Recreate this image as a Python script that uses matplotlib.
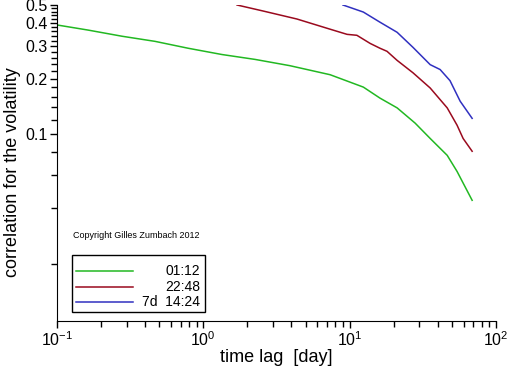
import matplotlib
matplotlib.use("Agg")
import matplotlib.pyplot as plt
from matplotlib.ticker import FixedLocator, NullFormatter, LogLocator, LogFormatterMathtext
from matplotlib.patches import Rectangle

plt.rcParams['font.family'] = ['Liberation Sans', 'DejaVu Sans']
plt.rcParams['mathtext.fontset'] = 'custom'
plt.rcParams['mathtext.rm'] = 'Liberation Sans'

# data
green_x = [0.1, 0.163, 0.278, 0.468, 0.786, 1.34, 2.26, 3.9, 7.35, 12.4, 16.1, 21.1, 28, 35.5, 46.4, 54.2, 68.7]
green_y = [0.39, 0.366, 0.339, 0.318, 0.292, 0.270, 0.254, 0.235, 0.21, 0.18, 0.157, 0.139, 0.115, 0.095, 0.077, 0.063, 0.044]

red_x = [1.7, 2.56, 4.36, 7.35, 9.6, 11.2, 13.8, 16.1, 18.0, 21.1, 27.1, 35.5, 46.4, 54.2, 59.6, 68.7]
red_y = [0.5, 0.464, 0.42, 0.37, 0.347, 0.343, 0.31, 0.292, 0.281, 0.251, 0.215, 0.178, 0.139, 0.112, 0.095, 0.081]

blue_x = [9.0, 12.4, 16.0, 21.1, 27.1, 35.5, 41.5, 48.5, 56.9, 68.7]
blue_y = [0.5, 0.458, 0.405, 0.356, 0.295, 0.238, 0.224, 0.195, 0.151, 0.122]

labels = ["01:12", "22:48", "7d  14:24"]
colors = ["#22b822", "#9a0a1e", "#3030c0"]

y_major = [0.1, 0.2, 0.3, 0.4, 0.5]
y_minor = [i * 0.02 for i in range(1, 25)]

fig = plt.figure(figsize=(5.12, 3.66), dpi=100)
ax = fig.add_axes([57 / 512, 45 / 366, 439 / 512, 316 / 366])

ax.plot(green_x, green_y, color=colors[0], lw=1.1)
ax.plot(red_x, red_y, color=colors[1], lw=1.1)
ax.plot(blue_x, blue_y, color=colors[2], lw=1.1)

ax.set_xscale("log")
ax.set_yscale("log")
ax.set_xlim(0.1, 100)
ax.set_ylim(0.0098, 0.5)

ax.xaxis.set_major_locator(LogLocator(base=10))
ax.xaxis.set_major_formatter(LogFormatterMathtext())
ax.xaxis.set_minor_locator(LogLocator(base=10, subs=range(2, 10)))
ax.xaxis.set_minor_formatter(NullFormatter())

ax.yaxis.set_major_locator(FixedLocator(y_major))
ax.set_yticklabels([str(v) for v in y_major])
ax.yaxis.set_minor_locator(FixedLocator(y_minor))
ax.yaxis.set_minor_formatter(NullFormatter())

ax.spines["top"].set_visible(False)
ax.spines["right"].set_visible(False)
ax.tick_params(which="major", direction="out", length=5, width=1, labelsize=11.5, pad=2)
ax.tick_params(which="minor", direction="out", length=4, width=1)

ax.set_xlabel("time lag  [day]", fontsize=13, labelpad=0)
ax.set_ylabel("correlation for the volatility", fontsize=13)
ax.yaxis.set_label_coords(-0.082, 0.47)

ax.text(0.036, 0.272, "Copyright Gilles Zumbach 2012", transform=ax.transAxes,
        fontsize=6.5, va="center", ha="left")

# hand made legend box
ax.add_patch(Rectangle((0.034, 0.028), 0.303, 0.181, transform=ax.transAxes,
                       fill=False, edgecolor="black", lw=1))
leg_y = [0.159, 0.109, 0.061]
for c, lab, yy in zip(colors, labels, leg_y):
    ax.plot([0.043, 0.173], [yy, yy], color=c, lw=1.1, transform=ax.transAxes)
    ax.text(0.326, yy, lab, transform=ax.transAxes, fontsize=10, ha="right", va="center")

fig.savefig("out.png", dpi=100)
